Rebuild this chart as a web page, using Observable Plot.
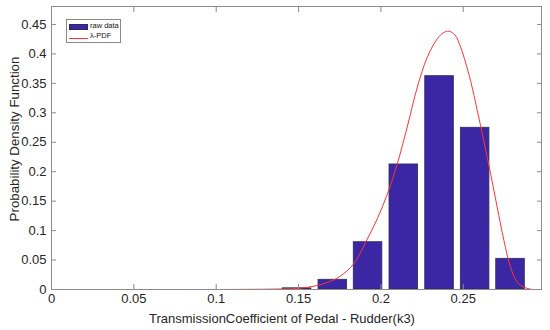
<!DOCTYPE html>
<html>
<head>
<meta charset="utf-8">
<script src="https://cdn.jsdelivr.net/npm/d3@7"></script>
<script src="https://cdn.jsdelivr.net/npm/@observablehq/plot@0.6"></script>
<style>
  html, body { margin: 0; padding: 0; background: #fff; }
  #wrap { position: relative; width: 550px; height: 330px; font-family: "Liberation Sans", Arial, sans-serif; }
  #legend { position: absolute; left: 66px; top: 19px; width: 53px; height: 22px; border: 1px solid #8a8a8a; background: #fff; font-size: 7.5px; color: #111; }
  .row { position: absolute; left: 2px; height: 8px; line-height: 8px; white-space: nowrap; }
  .sw { display: inline-block; vertical-align: middle; width: 19px; }
  .txt { position: absolute; left: 21px; top: 0; }
</style>
</head>
<body>
<div id="wrap"></div>
<script>
// Histogram bins (centers) and densities
const binCenters = [0.1491, 0.1708, 0.1922, 0.2139, 0.2356, 0.2572, 0.2787];
const densities  = [0.002, 0.0165, 0.0803, 0.2123, 0.3622, 0.2746, 0.0521];

// lambda-PDF curve points
const pdfX = [0.055, 0.10, 0.13, 0.14, 0.15, 0.16, 0.1675, 0.175, 0.1836, 0.1907, 0.1978, 0.2039, 0.2099, 0.2160, 0.2221, 0.2281, 0.2342, 0.2380, 0.2413, 0.2450, 0.2484, 0.2544, 0.2585, 0.2625, 0.2666, 0.2706, 0.2747, 0.2787, 0.2828, 0.2868, 0.2909, 0.2975];
const pdfY = [0, 0, 0.0005, 0.001, 0.002, 0.006, 0.012, 0.022, 0.044, 0.080, 0.120, 0.162, 0.213, 0.276, 0.3435, 0.394, 0.4257, 0.436, 0.4386, 0.432, 0.4115, 0.355, 0.304, 0.252, 0.1965, 0.1398, 0.0832, 0.0379, 0.0124, 0.004, 0.0005, 0];

const xTicks = [0, 0.05, 0.1, 0.15, 0.2, 0.25];
const yTicks = [0, 0.05, 0.1, 0.15, 0.2, 0.25, 0.3, 0.35, 0.4, 0.45];
const xLabel = "TransmissionCoefficient of Pedal - Rudder(k3)";
const yLabel = "Probability Density Function";
const legendLabels = ["raw data", "λ-PDF"];

const binStep = binCenters[1] - binCenters[0];
const barFrac = 0.8;
const bars = binCenters.map((c, i) => ({x1: c - binStep * barFrac / 2, x2: c + binStep * barFrac / 2, y: densities[i]}));
const curve = pdfX.map((x, i) => ({x, y: pdfY[i]}));

const axisColor = "#8c8c8c";
const textColor = "#262626";
const barFill = "#3b27a3";
const lineColor = "#ff3333";

const chart = Plot.plot({
  width: 550,
  height: 330,
  marginLeft: 51,
  marginRight: 9,
  marginTop: 6,
  marginBottom: 41,
  style: {fontFamily: "'Liberation Sans', Arial, sans-serif", fontSize: "13px", background: "#fff", color: textColor},
  x: {domain: [0, 0.2975]},
  y: {domain: [0, 0.4805]},
  marks: [
    Plot.rectY(bars, {x1: "x1", x2: "x2", y1: 0, y2: "y", fill: barFill, stroke: "#2b2b5e", strokeWidth: 0.8}),
    Plot.line(curve, {x: "x", y: "y", stroke: lineColor, strokeWidth: 1, curve: "catmull-rom"}),
    Plot.frame({stroke: axisColor, strokeWidth: 1}),
    Plot.axisX(xTicks, {anchor: "bottom", tickSize: -5, tickPadding: 9, stroke: axisColor, fill: textColor, fontSize: 13, label: null, tickFormat: d => String(d)}),
    Plot.axisX(xTicks, {anchor: "top", tickSize: -5, stroke: axisColor, label: null, tickFormat: () => ""}),
    Plot.axisY(yTicks, {anchor: "left", tickSize: -5, tickPadding: 10, stroke: axisColor, fill: textColor, fontSize: 13, label: null, tickFormat: d => String(d)}),
    Plot.axisY(yTicks, {anchor: "right", tickSize: -5, stroke: axisColor, label: null, tickFormat: () => ""})
  ]
});

const wrap = document.getElementById("wrap");
wrap.appendChild(chart);

// axis titles as SVG text
const svg = d3.select(chart);
svg.append("text")
  .attr("x", 282).attr("y", 320)
  .attr("text-anchor", "middle").attr("dominant-baseline", "middle")
  .attr("font-size", 13).attr("fill", textColor)
  .text(xLabel);
svg.append("text")
  .attr("transform", "translate(15,139) rotate(-90)")
  .attr("text-anchor", "middle").attr("dominant-baseline", "middle")
  .attr("font-size", 13.3).attr("fill", textColor)
  .text(yLabel);

// legend
const legend = document.createElement("div");
legend.id = "legend";
legend.innerHTML =
  '<div class="row" style="top:2px"><span class="sw" style="height:6px;background:' + barFill + ';border:0.5px solid #2b2b5e;box-sizing:border-box;margin-top:1px"></span><span class="txt">' + legendLabels[0] + '</span></div>' +
  '<div class="row" style="top:12px"><span class="sw" style="height:0;border-top:1px solid ' + lineColor + ';margin-top:4px"></span><span class="txt">' + legendLabels[1] + '</span></div>';
wrap.appendChild(legend);
</script>
</body>
</html>
